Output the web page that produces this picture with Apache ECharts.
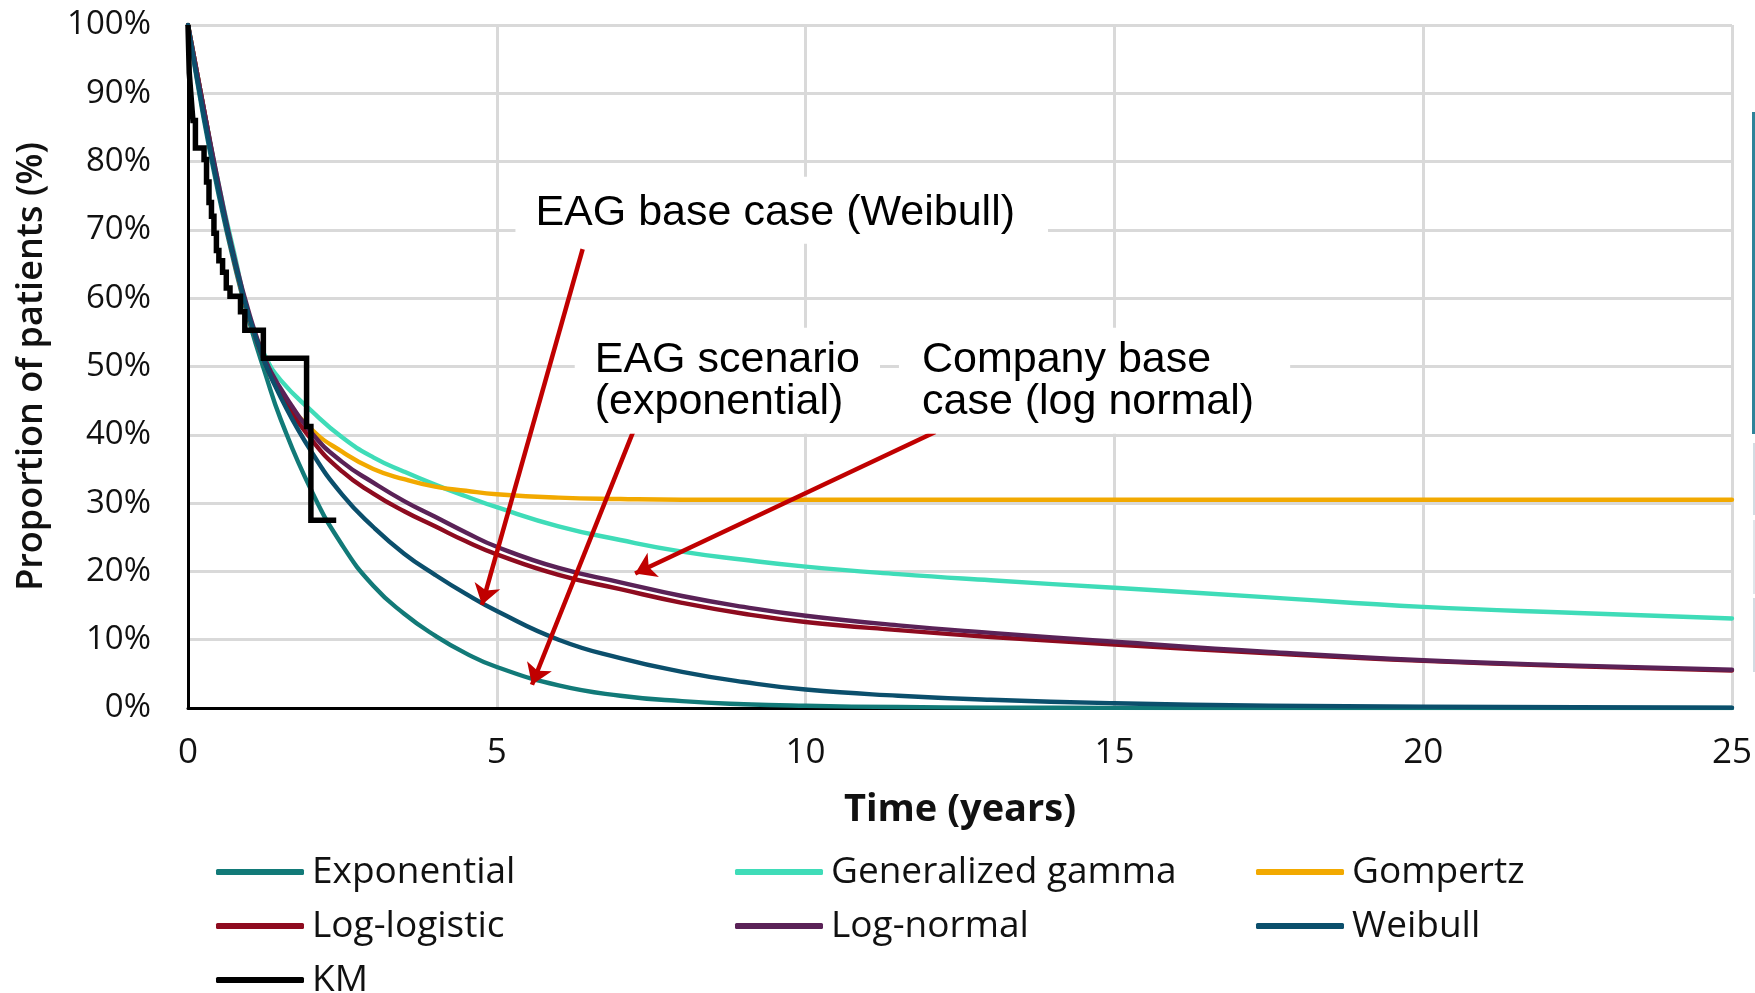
<!DOCTYPE html>
<html>
<head>
<meta charset="utf-8">
<script src="https://cdn.jsdelivr.net/npm/echarts@6/dist/echarts.min.js"></script>
<style>
  html, body { margin: 0; padding: 0; background: #ffffff; }
  #chart { width: 1755px; height: 993px; }
</style>
</head>
<body>
<div id="chart"></div>
<script>
// Survival time grid (years) shared by the fitted curves
const years = [0, 0.25, 0.5, 0.75, 1, 1.25, 1.5, 2, 2.5, 3, 3.5, 4, 4.5, 5, 6, 7, 8, 9, 10, 11.5, 13, 15, 17.5, 20, 22.5, 25];

// Fitted survival (%) per parametric model
const exponential = [100, 86.5, 75, 65, 56.3, 49, 42.3, 31.8, 23.8, 17.9, 13.8, 10.6, 8.0, 6.0, 3.3, 1.8, 1.0, 0.55, 0.32, 0.14, 0.06, 0.02, 0, 0, 0, 0];
const generalizedGamma = [100, 88, 76.5, 66.5, 57, 51.5, 48, 43.5, 39.6, 36.7, 34.6, 32.7, 31.0, 29.4, 26.6, 24.6, 22.9, 21.7, 20.7, 19.6, 18.7, 17.6, 16.2, 14.8, 13.9, 13.1];
const gompertz = [100, 88, 76, 65.5, 57, 51, 46.3, 40.8, 37.5, 35.0, 33.5, 32.4, 31.8, 31.3, 30.8, 30.6, 30.5, 30.5, 30.5, 30.5, 30.5, 30.5, 30.5, 30.5, 30.5, 30.5];
const logLogistic = [100, 88, 76, 65.5, 57, 50.5, 46, 39.3, 34.6, 31.4, 28.8, 26.6, 24.4, 22.5, 19.5, 17.4, 15.4, 13.8, 12.6, 11.4, 10.4, 9.3, 8.0, 6.9, 6.1, 5.5];
const logNormal = [100, 88, 76.5, 66, 57.5, 51, 46.8, 40.3, 36, 33.0, 30.3, 28.0, 25.7, 23.6, 20.5, 18.4, 16.4, 14.8, 13.5, 12.1, 11.0, 9.7, 8.2, 7.0, 6.2, 5.6];
const weibull = [100, 87, 75.5, 65.5, 57, 50.5, 45.5, 37.5, 31.2, 26.5, 22.6, 19.5, 16.7, 14.2, 10.0, 7.3, 5.3, 3.8, 2.7, 1.8, 1.2, 0.7, 0.35, 0.2, 0.1, 0.05];

// Kaplan-Meier estimate: event times (years) and survival (%)
const kmYears = [0, 0.02, 0.05, 0.08, 0.12, 0.26, 0.30, 0.34, 0.38, 0.42, 0.46, 0.50, 0.56, 0.62, 0.68, 0.85, 0.92, 1.22, 1.92, 1.99, 2.40];
const kmSurvival = [100, 93, 89.5, 86, 82, 80.3, 77, 74, 72, 69.5, 67, 65.5, 63.8, 61.5, 60.3, 58, 55.3, 51.2, 41.2, 27.5, 27.5];

// Axis tick values
const xTicks = [0, 5, 10, 15, 20, 25];
const yTicks = [0, 10, 20, 30, 40, 50, 60, 70, 80, 90, 100];

// Callout texts, their box corners and arrows (in axis units: years, %)
const notes = [
  { text: 'EAG base case (Weibull)', corner: [5.31, 77.7], pad: [15, 33, 10, 20] },
  { text: 'EAG scenario\n(exponential)', corner: [6.27, 55.6], pad: [11, 20, 11, 20] },
  { text: 'Company base\ncase (log normal)', corner: [11.52, 55.6], pad: [11, 36, 11, 23] }
];
const arrows = [
  { from: [6.39, 67.2], to: [4.76, 15.1] },
  { from: [7.21, 40.5], to: [5.57, 3.4] },
  { from: [12.1, 40.4], to: [7.24, 19.7] }
];

const curves = [
  { name: 'Exponential', values: exponential, color: '#127a78' },
  { name: 'Generalized gamma', values: generalizedGamma, color: '#3fdcb8' },
  { name: 'Gompertz', values: gompertz, color: '#f2a900' },
  { name: 'Log-logistic', values: logLogistic, color: '#8e0b1f' },
  { name: 'Log-normal', values: logNormal, color: '#5a2257' },
  { name: 'Weibull', values: weibull, color: '#0b4f6c' }
];

const tickFont = { fontFamily: 'Open Sans', color: '#111111' };
const legendFont = { fontFamily: 'Open Sans', fontSize: 37, color: '#111111', lineHeight: 40, padding: [0, 0, 0, 3] };

const series = curves.map(c => ({
  name: c.name,
  type: 'line',
  data: years.map((t, i) => [t, c.values[i]]),
  showSymbol: false,
  symbol: 'none',
  smooth: 0.5,
  color: c.color,
  lineStyle: { width: 4.4, color: c.color, cap: 'round', join: 'round' },
  silent: true
}));

series.push({
  name: 'KM',
  type: 'line',
  data: kmYears.map((t, i) => [t, kmSurvival[i]]),
  step: 'end',
  showSymbol: false,
  symbol: 'none',
  color: '#000000',
  lineStyle: { width: 5.5, color: '#000000', join: 'miter' },
  silent: true
});

// Callouts: white text boxes and red arrows
series.push({
  name: 'callouts',
  type: 'line',
  data: [],
  silent: true,
  z: 5,
  markLine: {
    silent: true,
    animation: false,
    symbol: ['none', 'arrow'],
    symbolSize: 20,
    label: { show: false },
    lineStyle: { color: '#c00000', width: 4.5, type: 'solid' },
    emphasis: { disabled: true },
    data: arrows.map(a => [{ coord: a.from }, { coord: a.to }])
  },
  markPoint: {
    silent: true,
    animation: false,
    symbol: 'rect',
    symbolSize: 1,
    itemStyle: { color: 'rgba(0,0,0,0)' },
    data: notes.map(n => ({
      coord: n.corner,
      label: {
        show: true,
        formatter: n.text,
        position: [0, 0],
        align: 'left',
        verticalAlign: 'top',
        fontFamily: 'Liberation Sans, Arial',
        fontSize: 43,
        lineHeight: 42,
        color: '#000000',
        backgroundColor: '#ffffff',
        padding: n.pad
      }
    }))
  }
});

const legendBase = {
  orient: 'vertical',
  top: 852,
  height: 200,
  padding: 0,
  icon: 'roundRect',
  itemWidth: 88,
  itemHeight: 6,
  itemGap: 14,
  selectedMode: false,
  textStyle: legendFont
};

const option = {
  animation: false,
  backgroundColor: '#ffffff',
  grid: { left: 188, top: 25, width: 1549, height: 683, containLabel: false },
  xAxis: {
    type: 'value',
    min: xTicks[0],
    max: xTicks[xTicks.length - 1],
    interval: 5,
    name: 'Time (years)',
    nameLocation: 'middle',
    nameGap: 82,
    nameTextStyle: { fontFamily: 'Open Sans', fontSize: 38, fontWeight: 'bold', color: '#111111', lineHeight: 40 },
    axisLine: { show: true, onZero: false, lineStyle: { color: '#000000', width: 3 } },
    axisTick: { show: false },
    axisLabel: Object.assign({ margin: 28, fontSize: 35 }, tickFont),
    splitLine: { show: true, lineStyle: { color: '#d9d9d9', width: 3 } }
  },
  yAxis: {
    type: 'value',
    min: yTicks[0],
    max: yTicks[yTicks.length - 1],
    interval: 10,
    name: 'Proportion of patients (%)',
    nameLocation: 'middle',
    nameGap: 138,
    nameTextStyle: { fontFamily: 'Open Sans', fontSize: 36, fontWeight: 600, color: '#111111' },
    axisLine: { show: true, onZero: false, lineStyle: { color: '#000000', width: 3 } },
    axisTick: { show: false },
    axisLabel: Object.assign({ margin: 37, fontSize: 33, formatter: '{value}%' }, tickFont),
    splitLine: { show: true, lineStyle: { color: '#d9d9d9', width: 3 } }
  },
  legend: [
    Object.assign({ left: 216, data: ['Exponential', 'Log-logistic', 'KM'] }, legendBase),
    Object.assign({ left: 735, data: ['Generalized gamma', 'Log-normal'] }, legendBase),
    Object.assign({ left: 1256, data: ['Gompertz', 'Weibull'] }, legendBase)
  ],
  graphic: [
    { type: 'rect', left: 1752, top: 112, shape: { width: 3, height: 322 }, style: { fill: '#2e8399' }, silent: true },
    { type: 'rect', left: 1753, top: 443, shape: { width: 2, height: 72 }, style: { fill: '#d3dce3' }, silent: true },
    { type: 'rect', left: 1753, top: 520, shape: { width: 2, height: 74 }, style: { fill: '#dfe5ea' }, silent: true },
    { type: 'rect', left: 1753, top: 598, shape: { width: 2, height: 74 }, style: { fill: '#d3dce3' }, silent: true }
  ],
  series: series
};

const chart = echarts.init(document.getElementById('chart'), null, { renderer: 'canvas' });
chart.setOption(option);
</script>
</body>
</html>
